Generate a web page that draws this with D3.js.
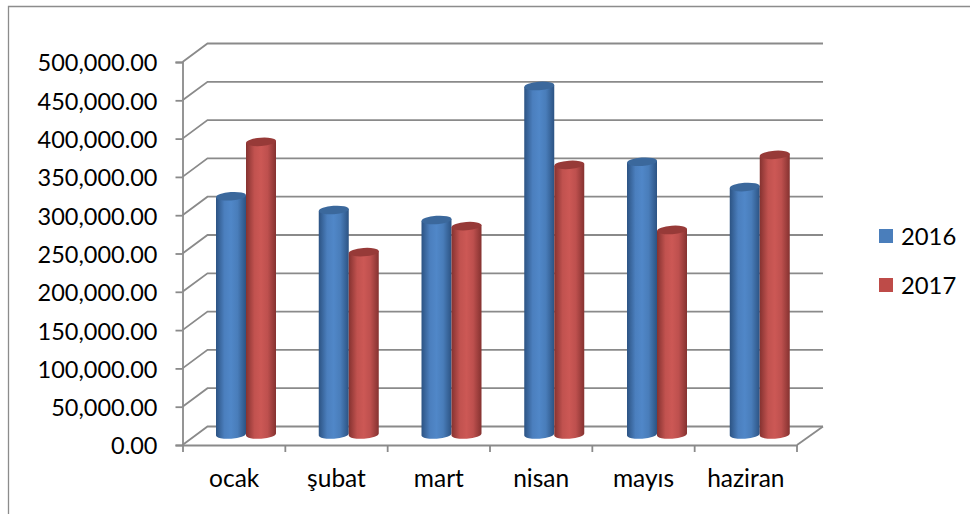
<!DOCTYPE html>
<html>
<head>
<meta charset="utf-8">
<script src="https://cdn.jsdelivr.net/npm/d3@7/dist/d3.min.js"></script>
<style>
html,body{margin:0;padding:0;background:#fff}
svg{display:block}
text{font-family:Lato,"Open Sans",sans-serif;fill:#000}
</style>
</head>
<body>
<svg id="c" width="970" height="514"></svg>
<script>
const categories = ["ocak","şubat","mart","nisan","mayıs","haziran"];
const seriesNames = ["2016","2017"];
const values2016 = [313000,295000,282000,457000,358000,325000];
const values2017 = [384000,240000,274000,354000,269000,367000];
const tickValues = [0,50000,100000,150000,200000,250000,300000,350000,400000,450000,500000];

const W=970,H=514;
const svg=d3.select("#c").attr("viewBox",`0 0 ${W} ${H}`);
const GRID="#8a8a8a";
const depthX=25, depthY=-18.5;
const y=d3.scaleLinear().domain([0,500000]).range([445,62]);
const x=d3.scaleBand().domain(categories).range([183,797]);
const barOuter=d3.scaleBand().domain(categories).range([216,832.5]);
const barInner=d3.scaleBand().domain(seriesNames).range([0,60]);
const colors={"2016":{edge:"#2c5383",mid:"#5087c8",top:"#3b689c",sw:"#4a7ebb"},
              "2017":{edge:"#853230",mid:"#cc5855",top:"#973a38",sw:"#be4b48"}};

const defs=svg.append("defs");
seriesNames.forEach(s=>{
  const g=defs.append("linearGradient").attr("id","g"+s);
  [[0,colors[s].edge],[0.28,d3.interpolateRgb(colors[s].edge,colors[s].mid)(0.85)],[0.5,colors[s].mid],[0.72,d3.interpolateRgb(colors[s].edge,colors[s].mid)(0.8)],[1,colors[s].edge]]
    .forEach(([o,c])=>g.append("stop").attr("offset",o).attr("stop-color",c));
});

// outer frame (top and left only reach the picture edges)
svg.append("path").attr("d",`M8.5 ${H} V6.5 H${W}`).attr("fill","none").attr("stroke","#8c8c8c").attr("stroke-width",1.3);

// back wall gridlines and side-wall diagonals
const grid=svg.append("g").attr("fill","none").attr("stroke",GRID).attr("stroke-width",1.8);
tickValues.forEach(v=>{
  const yy=y(v);
  grid.append("path").attr("d",`M182.5 ${yy} L${182.5+depthX} ${yy+depthY} H823`);
});
// floor
grid.append("path").attr("d",`M797 ${y(0)} L823 ${y(0)+depthY}`);

// axes
const yAxis=d3.axisLeft(y).tickValues(tickValues).tickFormat(d3.format(",.2f")).tickSize(7).tickPadding(18);
const gy=svg.append("g").attr("transform","translate(182.5,0)").call(yAxis);
const xAxis=d3.axisBottom(x).tickSize(0).tickPadding(25);
const gx=svg.append("g").attr("transform",`translate(0,${y(0)})`).call(xAxis);
[gy,gx].forEach(g=>{
  g.selectAll("path.domain").attr("stroke",GRID).attr("stroke-width",1.8);
  g.selectAll(".tick line").attr("stroke",GRID).attr("stroke-width",1.8);
  g.selectAll("text").style("font-family","Lato,'Open Sans',sans-serif").attr("fill","#000");
});
gy.selectAll("text").style("font-size","23.5px").attr("dy","0.38em");
gx.selectAll("text").style("font-size","24.5px").attr("dy","0.71em");
// category boundary ticks
const edges=categories.map(c=>x(c)).concat([x.range()[1]]);
svg.append("g").selectAll("line").data(edges).join("line")
  .attr("x1",d=>d).attr("x2",d=>d).attr("y1",y(0)).attr("y2",y(0)+7)
  .attr("stroke",GRID).attr("stroke-width",1.8);

// cylinders
const baseline=y(0)-10.5;        // floor centre of the bars
const ry=4.2, tilt=-4;
function drawBar(g,c,s,v){
  const left=barOuter(c)+barInner(s), w=barInner.bandwidth(), rx=w/2;
  const cx=left+rx, top=y(v)-9;
  const dy=rx*Math.sin(tilt*Math.PI/180);
  const yl=t=>t-dy, yr=t=>t+dy;
  g.append("path")
    .attr("d",`M${left} ${yl(top)} L${left} ${yl(baseline)} A${rx} ${ry} ${tilt} 0 0 ${left+w} ${yr(baseline)} L${left+w} ${yr(top)} Z`)
    .attr("fill",`url(#g${s})`);
  g.append("ellipse").attr("cx",cx).attr("cy",top).attr("rx",rx).attr("ry",ry)
    .attr("transform",`rotate(${tilt} ${cx} ${top})`).attr("fill",colors[s].top);
}
const bars=svg.append("g");
categories.forEach((c,i)=>{
  drawBar(bars,c,"2016",values2016[i]);
  drawBar(bars,c,"2017",values2017[i]);
});

// legend
const lg=d3.scalePoint().domain(seriesNames).range([236,285]);
seriesNames.forEach(s=>{
  svg.append("rect").attr("x",879).attr("y",lg(s)-7).attr("width",14).attr("height",14).attr("fill",colors[s].sw);
  svg.append("text").attr("x",901).attr("y",lg(s)).attr("dy","0.38em").style("font-size","23.8px").text(s);
});
</script>
</body>
</html>
